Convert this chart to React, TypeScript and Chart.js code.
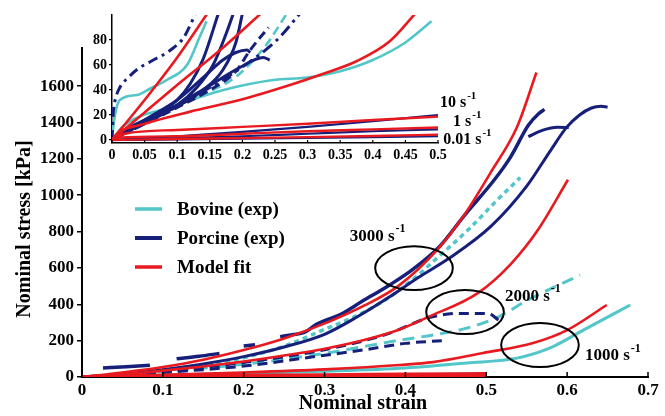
import React, { useEffect, useRef } from 'react';
import { Chart, registerables } from 'chart.js';
Chart.register(...registerables);

type P = [number, number | null];

const FONT = "'Liberation Serif', 'Times New Roman', Times, serif";
const CYAN = '#52c6c8';
const NAVY = '#16207a';
const RED = '#e8191f';

// ---------- axis ticks / titles ----------
const mainXTicks = [0, 0.1, 0.2, 0.3, 0.4, 0.5, 0.6, 0.7];
const mainYTicks = [0, 200, 400, 600, 800, 1000, 1200, 1400, 1600];
const insetXTicks = [0, 0.05, 0.1, 0.15, 0.2, 0.25, 0.3, 0.35, 0.4, 0.45, 0.5];
const insetYTicks = [0, 20, 40, 60, 80];
const xTitle = 'Nominal strain';
const yTitle = 'Nominal stress [kPa]';

// ---------- legend ----------
const legendNames = ['Bovine (exp)', 'Porcine (exp)', 'Model fit'];
const legendColors = [CYAN, NAVY, RED];

// ---------- main chart: high strain-rate data (strain, kPa) ----------
const fit3000: P[] = [[0, 0], [0.05, 25], [0.1, 55], [0.15, 95], [0.2, 148], [0.25, 212], [0.305, 303], [0.35, 395], [0.391, 500], [0.439, 698], [0.471, 880], [0.505, 1122], [0.538, 1375], [0.562, 1675]];
const fit2000: P[] = [[0, 0], [0.05, 15], [0.1, 35], [0.15, 58], [0.2, 85], [0.25, 118], [0.305, 160], [0.35, 205], [0.391, 259], [0.428, 330], [0.49, 463], [0.53, 620], [0.564, 810], [0.601, 1085]];
const fit1000: P[] = [[0, 0], [0.1, 12], [0.2, 25], [0.3, 42], [0.393, 66], [0.434, 82], [0.496, 132], [0.558, 187], [0.6, 258], [0.649, 396]];

const porcine3000a: P[] = [[0.026, 50], [0.055, 57], [0.084, 65], [0.1, null], [0.117, 100], [0.145, 114], [0.17, 130], [0.185, null], [0.2, 170], [0.214, 178], [0.23, null], [0.245, 222], [0.26, 233], [0.275, 245], [0.29, 290], [0.32, 345], [0.346, 415], [0.38, 505], [0.41, 595], [0.441, 712], [0.474, 895], [0.51, 1085], [0.53, 1210], [0.552, 1385], [0.565, 1450], [0.572, 1472]];
const porcine3000b: P[] = [[0, 0], [0.05, 15], [0.1, 40], [0.15, 72], [0.2, 112], [0.25, 165], [0.3, 235], [0.34, 330], [0.38, 440], [0.415, 545], [0.453, 650], [0.506, 830], [0.55, 1050], [0.58, 1250], [0.599, 1372], [0.615, 1440], [0.63, 1480], [0.642, 1490], [0.65, 1484]];
const porcineBranch: P[] = [[0.552, 1322], [0.57, 1358], [0.588, 1374], [0.602, 1372]];
const porcine2000a: P[] = [[0, 0], [0.1, 30], [0.2, 80], [0.3, 150], [0.38, 240], [0.428, 325], [0.465, 350], [0.502, 350], [0.515, 314]];
const porcine2000b: P[] = [[0, 0], [0.1, 25], [0.2, 60], [0.284, 110], [0.35, 150], [0.4, 185], [0.445, 200]];

const bovine3000: P[] = [[0, 0], [0.05, 15], [0.1, 38], [0.15, 66], [0.2, 106], [0.25, 170], [0.3, 262], [0.34, 338], [0.375, 424], [0.41, 540], [0.441, 662], [0.48, 820], [0.511, 962], [0.542, 1097]];
const bovine2000: P[] = [[0, 0], [0.1, 30], [0.2, 70], [0.3, 130], [0.393, 203], [0.434, 231], [0.476, 269], [0.517, 335], [0.55, 420], [0.616, 561]];
const bovine1000: P[] = [[0, 0], [0.1, 10], [0.2, 20], [0.3, 32], [0.4, 50], [0.476, 77], [0.538, 104], [0.579, 160], [0.62, 258], [0.678, 396]];

// ---------- quasi-static data (shared by main chart and inset) ----------
const fit10: P[] = [[0, 0], [0.02, 5], [0.1, 8], [0.2, 10.5], [0.3, 13], [0.4, 16], [0.5, 18.7]];
const fit1: P[] = [[0, 0], [0.01, 2], [0.1, 3], [0.2, 5], [0.3, 7], [0.4, 8.5], [0.5, 10]];
const fit001: P[] = [[0, 0], [0.1, 0.8], [0.2, 1.5], [0.3, 2.3], [0.4, 3.2], [0.5, 4.3]];
const porcine10: P[] = [[0, 0], [0.1, 3], [0.2, 6.5], [0.3, 10.5], [0.4, 15], [0.5, 20]];
const porcine1: P[] = [[0, 0], [0.1, 1.5], [0.2, 3], [0.3, 5], [0.4, 7], [0.5, 8.5]];
const porcine001: P[] = [[0, 0], [0.1, 0.4], [0.2, 1], [0.3, 1.6], [0.4, 2.3], [0.5, 3]];

// ---------- inset: low-stress region (strain, kPa) ----------
const inFitA: P[] = [[0, 0], [0.05, 32], [0.1, 66], [0.146, 101]];
const inFitB: P[] = [[0, 0], [0.05, 22], [0.1, 44], [0.166, 72], [0.228, 101]];
const inFitC: P[] = [[0, 0], [0.01, 6], [0.043, 12], [0.12, 22.7], [0.196, 32], [0.273, 44], [0.324, 53], [0.375, 63], [0.426, 79], [0.465, 101]];
const inPorcineDashDot: P[] = [[0, 0], [0.002, 22], [0.006, 34], [0.012, 42], [0.025, 50], [0.04, 57], [0.06, 63], [0.09, 72], [0.11, 82], [0.128, 101]];
const inPorcineA: P[] = [[0, 0], [0.02, 8], [0.05, 16], [0.08, 24], [0.1, 32], [0.12, 45], [0.14, 65], [0.163, 101]];
const inPorcineB: P[] = [[0, 0], [0.03, 10], [0.06, 18], [0.1, 28], [0.13, 42], [0.155, 60], [0.175, 85], [0.186, 101]];
const inPorcineC: P[] = [[0, 0], [0.05, 14], [0.1, 27], [0.14, 40], [0.17, 56], [0.19, 78], [0.2, 101]];
const inPorcineD: P[] = [[0, 0], [0.05, 16], [0.1, 32], [0.14, 50], [0.17, 64], [0.19, 70], [0.207, 72], [0.212, 70]];
const inPorcineE: P[] = [[0, 0], [0.05, 14], [0.1, 28], [0.145, 42], [0.196, 58], [0.232, 66], [0.242, 64]];
const inPorcineDashed: P[] = [[0, 0], [0.05, 13], [0.1, 26], [0.15, 40], [0.19, 55], [0.212, 72], [0.24, 90]];
const inPorcineDashDot2: P[] = [[0, 0], [0.05, 13], [0.1, 27], [0.15, 42], [0.196, 57], [0.253, 80], [0.288, 101]];
const inBovineA: P[] = [[0, 0], [0.003, 15], [0.012, 32], [0.038, 36], [0.058, 41], [0.084, 48], [0.115, 60], [0.135, 83], [0.145, 95]];
const inBovineLong: P[] = [[0, 0], [0.017, 11], [0.094, 27], [0.171, 40], [0.247, 48], [0.299, 50], [0.35, 55], [0.4, 64], [0.45, 78], [0.49, 95]];
const inBovineDashed: P[] = [[0, 0], [0.05, 14], [0.12, 32], [0.191, 51], [0.235, 75], [0.268, 101]];

// ---------- annotations (data coordinates) ----------
const ellipseX = [0.4106, 0.4737, 0.5664];
const ellipseY = [599, 357, 176];
const ellipseRX = 0.048;
const ellipseRY = 121;
const rateNames = ['3000', '2000', '1000'];
const rateX = [0.331, 0.523, 0.622];
const rateY = [775, 445, 115];
const lowRateNames = ['10', '1', '0.01'];
const lowRateX = [0.503, 0.523, 0.508];
const lowRateY = [29.6, 14.4, 0];

function ds(pts: P[], color: string, width: number, dash: number[] = []) {
  return {
    data: pts.map((p) => ({ x: p[0], y: p[1] })),
    borderColor: color,
    backgroundColor: color,
    borderWidth: width,
    borderDash: dash,
    pointRadius: 0,
    pointHoverRadius: 0,
    fill: false,
    spanGaps: false,
    cubicInterpolationMode: 'monotone',
    borderCapStyle: 'butt',
    borderJoinStyle: 'round',
  };
}

const fmt = (v: number) => String(+Number(v).toFixed(2));

function drawRate(ctx: CanvasRenderingContext2D, x: number, y: number, base: string, size: number) {
  ctx.font = `bold ${size}px ${FONT}`;
  ctx.textAlign = 'left';
  ctx.textBaseline = 'middle';
  const t = base + ' s';
  ctx.fillText(t, x, y);
  const w = ctx.measureText(t).width;
  ctx.font = `bold ${Math.round(size * 0.7)}px ${FONT}`;
  ctx.fillText('-1', x + w + 1, y - size * 0.4);
}

const mainDecor = {
  id: 'mainDecor',
  afterDraw(chart: any) {
    const { ctx, chartArea, scales } = chart;
    const xs = scales.x;
    const ys = scales.y;
    ctx.save();
    ctx.strokeStyle = '#000';
    ctx.lineWidth = 1.5;
    mainXTicks.forEach((v) => {
      const px = xs.getPixelForValue(v);
      ctx.beginPath();
      ctx.moveTo(px, chartArea.bottom);
      ctx.lineTo(px, chartArea.bottom - 5);
      ctx.stroke();
    });
    ctx.fillStyle = '#000';
    ctx.font = `bold 20px ${FONT}`;
    ctx.textAlign = 'center';
    ctx.textBaseline = 'middle';
    ctx.fillText(xTitle, (chartArea.left + chartArea.right) / 2 - 2, 404);
    ctx.save();
    ctx.translate(25, 229);
    ctx.rotate(-Math.PI / 2);
    ctx.fillText(yTitle, 0, 0);
    ctx.restore();

    // legend
    legendNames.forEach((name, i) => {
      const y = 209 + i * 29;
      ctx.strokeStyle = legendColors[i];
      ctx.lineWidth = i === 1 ? 4 : 3.5;
      ctx.beginPath();
      ctx.moveTo(135, y);
      ctx.lineTo(162, y);
      ctx.stroke();
      ctx.fillStyle = '#000';
      ctx.font = `bold 19px ${FONT}`;
      ctx.textAlign = 'left';
      ctx.textBaseline = 'middle';
      ctx.fillText(name, 177, y + 1);
    });

    // ellipses
    ctx.strokeStyle = '#000';
    ctx.lineWidth = 2;
    ellipseX.forEach((cx, i) => {
      const px = xs.getPixelForValue(cx);
      const py = ys.getPixelForValue(ellipseY[i]);
      const rx = Math.abs(xs.getPixelForValue(cx + ellipseRX) - px);
      const ry = Math.abs(ys.getPixelForValue(ellipseY[i] + ellipseRY) - py);
      ctx.beginPath();
      ctx.ellipse(px, py, rx, ry, 0, 0, Math.PI * 2);
      ctx.stroke();
    });

    // rate labels
    ctx.fillStyle = '#000';
    rateNames.forEach((n, i) => {
      drawRate(ctx, xs.getPixelForValue(rateX[i]), ys.getPixelForValue(rateY[i]), n, 17);
    });
    ctx.restore();
  },
};

const insetDecor = {
  id: 'insetDecor',
  afterDraw(chart: any) {
    const { ctx, chartArea, scales } = chart;
    const xs = scales.x;
    const ys = scales.y;
    ctx.save();
    ctx.strokeStyle = '#000';
    ctx.lineWidth = 1.2;
    insetXTicks.forEach((v) => {
      const px = xs.getPixelForValue(v);
      ctx.beginPath();
      ctx.moveTo(px, chartArea.bottom);
      ctx.lineTo(px, chartArea.bottom - 3);
      ctx.stroke();
    });
    ctx.fillStyle = '#000';
    lowRateNames.forEach((n, i) => {
      drawRate(ctx, xs.getPixelForValue(lowRateX[i]), ys.getPixelForValue(lowRateY[i]), n, 16);
    });
    ctx.restore();
  },
};

function axisCommon(size: number) {
  return {
    color: '#000',
    font: { family: FONT, size, weight: 'bold' as const },
    autoSkip: false,
    maxRotation: 0,
    minRotation: 0,
    callback: (v: any) => fmt(v),
  };
}

export default function App() {
  const mainRef = useRef<HTMLCanvasElement | null>(null);
  const insetRef = useRef<HTMLCanvasElement | null>(null);

  useEffect(() => {
    document.body.style.margin = '0';
    const mainSets = [
      ds(fit3000, RED, 2.6),
      ds(fit2000, RED, 2.6),
      ds(fit1000, RED, 2.6),
      ds(fit10, RED, 3),
      ds(fit1, RED, 3),
      ds(fit001, RED, 3),
      ds(porcine3000a, NAVY, 3.5),
      ds(porcine3000b, NAVY, 3),
      ds(porcineBranch, NAVY, 3),
      ds(porcine2000a, NAVY, 3, [10, 6]),
      ds(porcine2000b, NAVY, 3, [10, 6]),
      ds(porcine10, NAVY, 2),
      ds(porcine1, NAVY, 2),
      ds(porcine001, NAVY, 2),
      ds(bovine3000, CYAN, 3.5, [5, 4]),
      ds(bovine2000, CYAN, 3, [12, 7]),
      ds(bovine1000, CYAN, 3),
    ];
    const main = new Chart(mainRef.current as HTMLCanvasElement, {
      type: 'line',
      data: { datasets: mainSets as any },
      options: {
        responsive: false,
        animation: false,
        devicePixelRatio: 1,
        layout: { padding: { top: 48, right: 17, left: 0, bottom: 0 } },
        plugins: { legend: { display: false }, tooltip: { enabled: false } },
        scales: {
          x: {
            type: 'linear',
            min: 0,
            max: 0.7,
            afterBuildTicks: (s: any) => { s.ticks = mainXTicks.map((v) => ({ value: v })); },
            afterFit: (s: any) => { s.height = 39; },
            grid: { display: false, drawTicks: false },
            border: { display: true, color: '#000', width: 2 },
            ticks: { ...axisCommon(17), padding: 3 },
          },
          y: {
            type: 'linear',
            min: 0,
            max: 1810,
            afterBuildTicks: (s: any) => { s.ticks = mainYTicks.map((v) => ({ value: v })); },
            afterFit: (s: any) => { s.width = 82; },
            grid: { display: true, drawOnChartArea: false, drawTicks: true, tickLength: 5, color: '#000', lineWidth: 1.5 },
            border: { display: true, color: '#000', width: 2 },
            ticks: { ...axisCommon(17), padding: 3 },
          },
        },
      } as any,
      plugins: [mainDecor],
    });

    const insetSets = [
      ds(inFitA, RED, 2.6),
      ds(inFitB, RED, 2.6),
      ds(inFitC, RED, 2.6),
      ds(fit10, RED, 2.4),
      ds(fit1, RED, 2.4),
      ds(fit001, RED, 2.4),
      ds(inPorcineDashDot, NAVY, 3, [10, 5, 3, 5]),
      ds(inPorcineA, NAVY, 3),
      ds(inPorcineB, NAVY, 3),
      ds(inPorcineC, NAVY, 3),
      ds(inPorcineD, NAVY, 3),
      ds(inPorcineE, NAVY, 3),
      ds(inPorcineDashed, NAVY, 3, [9, 5]),
      ds(inPorcineDashDot2, NAVY, 3, [12, 5, 3, 5]),
      ds(porcine10, NAVY, 2.2),
      ds(porcine1, NAVY, 2.2),
      ds(porcine001, NAVY, 2.2),
      ds(inBovineA, CYAN, 2.6),
      ds(inBovineLong, CYAN, 2.6),
      ds(inBovineDashed, CYAN, 2.6, [9, 5]),
    ];
    const inset = new Chart(insetRef.current as HTMLCanvasElement, {
      type: 'line',
      data: { datasets: insetSets as any },
      options: {
        responsive: false,
        animation: false,
        devicePixelRatio: 1,
        layout: { padding: { top: 15, right: 82, left: 0, bottom: 0 } },
        plugins: { legend: { display: false }, tooltip: { enabled: false } },
        scales: {
          x: {
            type: 'linear',
            min: 0,
            max: 0.5,
            afterBuildTicks: (s: any) => { s.ticks = insetXTicks.map((v) => ({ value: v })); },
            afterFit: (s: any) => { s.height = 27; },
            grid: { display: false, drawTicks: false },
            border: { display: true, color: '#000', width: 1.5 },
            ticks: { ...axisCommon(14), padding: 4 },
          },
          y: {
            type: 'linear',
            min: -2.4,
            max: 100,
            afterBuildTicks: (s: any) => { s.ticks = insetYTicks.map((v) => ({ value: v })); },
            afterFit: (s: any) => { s.width = 52; },
            grid: { display: true, drawOnChartArea: false, drawTicks: true, tickLength: 3, color: '#000', lineWidth: 1.2 },
            border: { display: true, color: '#000', width: 1.5 },
            ticks: { ...axisCommon(14), padding: 2 },
          },
        },
      } as any,
      plugins: [insetDecor],
    });

    return () => {
      main.destroy();
      inset.destroy();
    };
  }, []);

  return (
    <div style={{ position: 'relative', width: 665, height: 416, background: '#fff' }}>
      <canvas ref={mainRef} width={665} height={416} style={{ position: 'absolute', left: 0, top: 0 }} />
      <canvas ref={insetRef} width={460} height={170} style={{ position: 'absolute', left: 60, top: 0 }} />
    </div>
  );
}
